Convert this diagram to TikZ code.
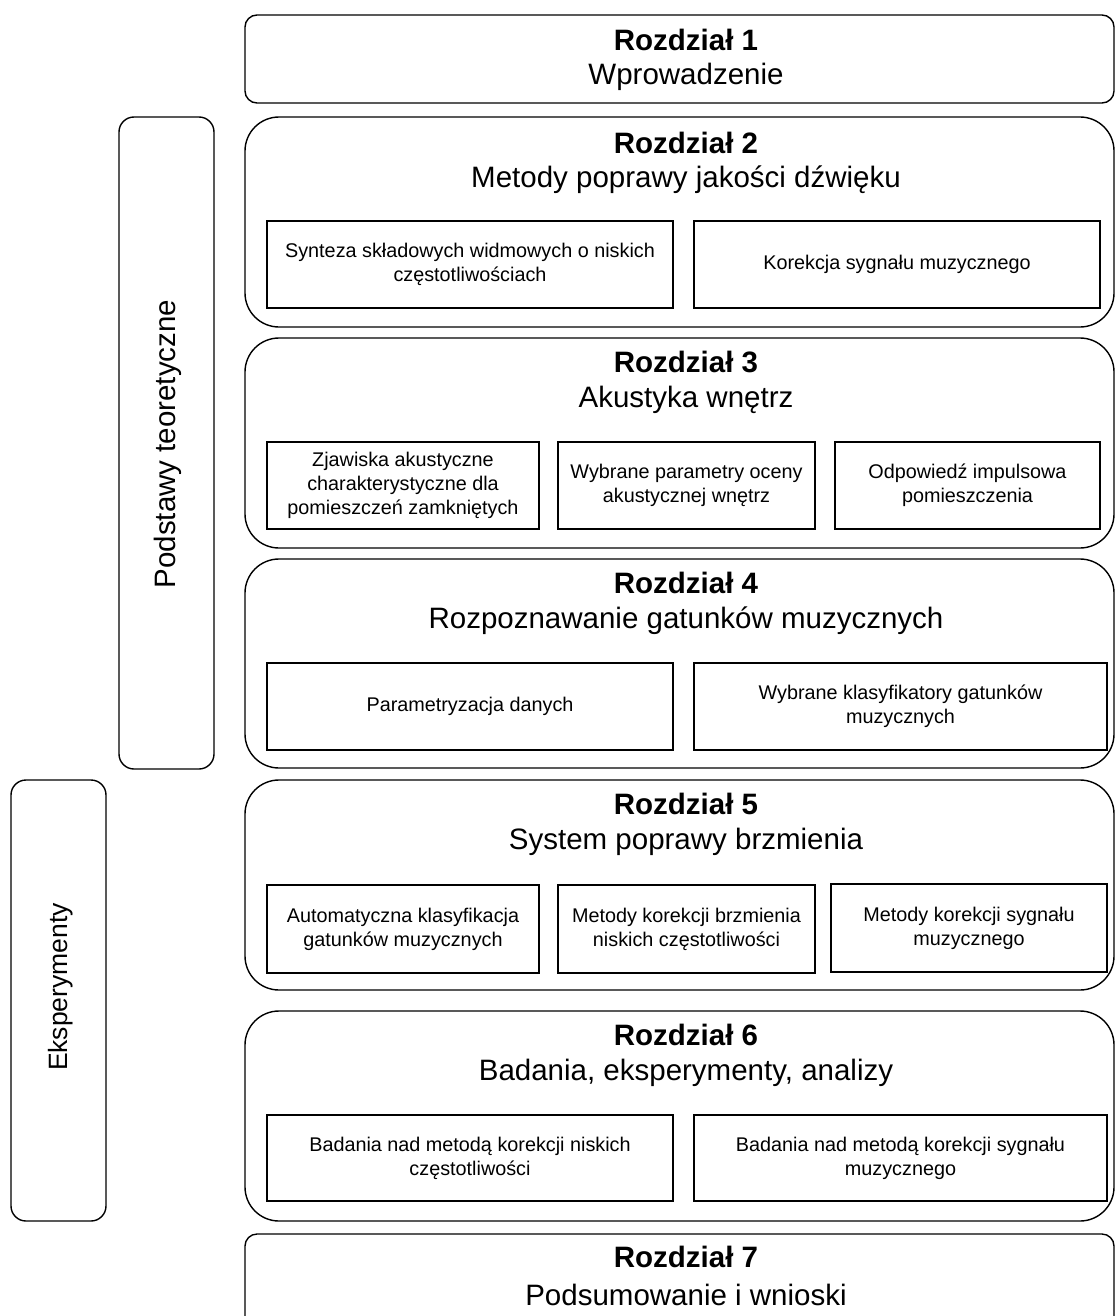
\documentclass[tikz,border=0pt]{standalone}
\usepackage{fontspec}
\setmainfont{Liberation Sans}
\begin{document}
\begin{tikzpicture}[x=1pt,y=-1pt,
  chap/.style={draw, line width=1.4pt, rounded corners=34pt, inner sep=0pt},
  chapsmall/.style={draw, line width=1.4pt, rounded corners=12pt, inner sep=0pt},
  side/.style={draw, line width=1.4pt, rounded corners=15pt, inner sep=0pt},
  sub/.style={draw, line width=1.3pt, inner sep=0pt, align=center, font=\fontsize{19.8}{24}\selectfont},
  head/.style={font=\fontsize{29.5}{34}\selectfont\bfseries, inner sep=0pt},
  title/.style={font=\fontsize{29.5}{34}\selectfont, inner sep=0pt},
  sidelabel/.style={font=\fontsize{29.5}{34}\selectfont, inner sep=0pt, rotate=90}
]
\useasboundingbox (0,0) rectangle (1115,1316);

% Chapter 1
\node[chapsmall, minimum width=869pt, minimum height=88pt] (c1) at (679.5,59) {};
\node[head] (h1) at (686,40) {Rozdział 1};
\node[title] (t1) at (686,77) {Wprowadzenie};

% Chapter 2
\node[chap, minimum width=869pt, minimum height=210pt] (c2) at (679.5,222) {};
\node[head] (h2) at (686,143) {Rozdział 2};
\node[title] (t2) at (686,180) {Metody poprawy jakości dźwięku};
\node[sub, minimum width=406pt, minimum height=87pt] (b2a) at (470,264.5) {Synteza składowych widmowych o niskich\\częstotliwościach};
\node[sub, minimum width=406pt, minimum height=87pt] (b2b) at (897,264.5) {Korekcja sygnału muzycznego};

% Chapter 3
\node[chap, minimum width=869pt, minimum height=210pt] (c3) at (679.5,443) {};
\node[head] (h3) at (686,362) {Rozdział 3};
\node[title] (t3) at (686,400) {Akustyka wnętrz};
\node[sub, minimum width=272pt, minimum height=87pt] (b3a) at (403,485.5) {Zjawiska akustyczne\\charakterystyczne dla\\pomieszczeń zamkniętych};
\node[sub, minimum width=257pt, minimum height=87pt] (b3b) at (686.5,485.5) {Wybrane parametry oceny\\akustycznej wnętrz};
\node[sub, minimum width=265pt, minimum height=87pt] (b3c) at (967.5,485.5) {Odpowiedź impulsowa\\pomieszczenia};

% Chapter 4
\node[chap, minimum width=869pt, minimum height=209pt] (c4) at (679.5,663.5) {};
\node[head] (h4) at (686,583) {Rozdział 4};
\node[title] (t4) at (686,621) {Rozpoznawanie gatunków muzycznych};
\node[sub, minimum width=406pt, minimum height=87pt] (b4a) at (470,706.5) {Parametryzacja danych};
\node[sub, minimum width=413pt, minimum height=87pt] (b4b) at (900.5,706.5) {Wybrane klasyfikatory gatunków\\muzycznych};

% Chapter 5
\node[chap, minimum width=869pt, minimum height=210pt] (c5) at (679.5,885) {};
\node[head] (h5) at (686,804) {Rozdział 5};
\node[title] (t5) at (686,842) {System poprawy brzmienia};
\node[sub, minimum width=272pt, minimum height=88pt] (b5a) at (403,929) {Automatyczna klasyfikacja\\gatunków muzycznych};
\node[sub, minimum width=257pt, minimum height=88pt] (b5b) at (686.5,929) {Metody korekcji brzmienia\\niskich częstotliwości};
\node[sub, minimum width=276pt, minimum height=88pt] (b5c) at (969,928) {Metody korekcji sygnału\\muzycznego};

% Chapter 6
\node[chap, minimum width=869pt, minimum height=210pt] (c6) at (679.5,1116) {};
\node[head] (h6) at (686,1035) {Rozdział 6};
\node[title] (t6) at (686,1073) {Badania, eksperymenty, analizy};
\node[sub, minimum width=406pt, minimum height=86pt] (b6a) at (470,1158) {Badania nad metodą korekcji niskich\\częstotliwości};
\node[sub, minimum width=413pt, minimum height=86pt] (b6b) at (900.5,1158) {Badania nad metodą korekcji sygnału\\muzycznego};

% Chapter 7
\node[chapsmall, minimum width=869pt, minimum height=96pt] (c7) at (679.5,1282) {};
\node[head] (h7) at (686,1257) {Rozdział 7};
\node[title] (t7) at (686,1295) {Podsumowanie i wnioski};

% Side boxes
\node[side, minimum width=95pt, minimum height=652pt] (s1) at (166.5,443) {};
\node[sidelabel] (l1) at (168,444) {Podstawy teoretyczne};
\node[side, minimum width=95pt, minimum height=441pt] (s2) at (58.5,1000.5) {};
\node[sidelabel, font=\fontsize{26.5}{30}\selectfont] (l2) at (61,987) {Eksperymenty};
\end{tikzpicture}
\end{document}
